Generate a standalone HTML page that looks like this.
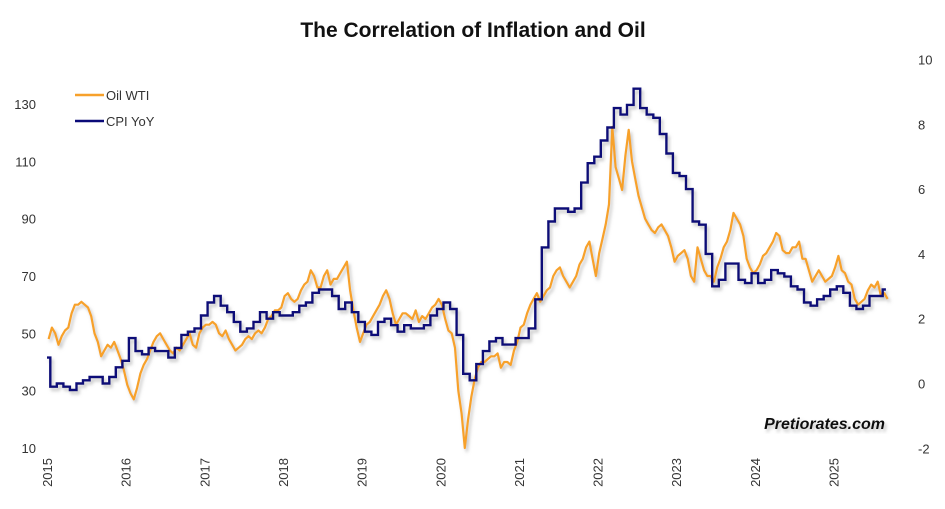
<!DOCTYPE html>
<html><head><meta charset="utf-8"><style>
body{margin:0;background:#fff;}
svg{display:block;font-family:"Liberation Sans",sans-serif;}
</style></head><body>
<svg id="chart" width="945" height="509">
<defs><filter id="sh" x="-5%" y="-5%" width="110%" height="110%"><feDropShadow dx="2" dy="3" stdDeviation="1.5" flood-color="#888" flood-opacity="0.5"/></filter></defs>
<text x="473" y="37" text-anchor="middle" font-size="21" font-weight="bold" fill="#111">The Correlation of Inflation and Oil</text>
<g id="leftAxis"></g>
<g id="rightAxis"></g>
<g id="xAxis"></g>
<g id="series" filter="url(#sh)"></g>
<g>
<line x1="75" y1="95" x2="104" y2="95" stroke="#F7A12B" stroke-width="2.5"/>
<text x="106" y="100" font-size="13" fill="#333">Oil WTI</text>
<line x1="75" y1="121" x2="104" y2="121" stroke="#0A0A78" stroke-width="2.5"/>
<text x="106" y="126" font-size="13" fill="#333">CPI YoY</text>
</g>
<text x="885" y="429" text-anchor="end" font-size="16" font-weight="bold" font-style="italic" fill="#111" filter="url(#sh)">Pretiorates.com</text>
</svg>
<script>
const yearLabels=["2015","2016","2017","2018","2019","2020","2021","2022","2023","2024","2025"];
const leftTicks=[10,30,50,70,90,110,130];
const rightTicks=[-2,0,2,4,6,8,10];
// CPI YoY monthly, starting Dec 2014
const cpiValues=[0.8,
-0.1,0.0,-0.1,-0.2,0.0,0.1,0.2,0.2,0.0,0.2,0.5,0.7,
1.4,1.0,0.9,1.1,1.0,1.0,0.8,1.1,1.5,1.6,1.7,2.1,
2.5,2.7,2.4,2.2,1.9,1.6,1.7,1.9,2.2,2.0,2.2,2.1,
2.1,2.2,2.4,2.5,2.8,2.9,2.9,2.7,2.3,2.5,2.2,1.9,
1.6,1.5,1.9,2.0,1.8,1.6,1.8,1.7,1.7,1.8,2.1,2.3,
2.5,2.3,1.5,0.3,0.1,0.6,1.0,1.3,1.4,1.2,1.2,1.4,
1.4,1.7,2.6,4.2,5.0,5.4,5.4,5.3,5.4,6.2,6.8,7.0,
7.5,7.9,8.5,8.3,8.6,9.1,8.5,8.3,8.2,7.7,7.1,6.5,
6.4,6.0,5.0,4.9,4.0,3.0,3.2,3.7,3.7,3.2,3.1,3.4,
3.1,3.2,3.5,3.4,3.3,3.0,2.9,2.5,2.4,2.6,2.7,2.9,
3.0,2.8,2.4,2.3,2.4,2.7,2.7,2.9];
// Oil WTI semi-monthly, from Jan 2015
const oilValues=[
48,52,50,46,49,51,52,57,60,60,61,60,59,56,50,47,42,44,46,45,47,44,41,37,
32,29,27,31,36,39,41,44,47,49,50,48,46,44,43,45,44,46,48,50,46,45,50,52,
53,53,54,53,50,49,51,48,46,44,45,46,48,49,48,50,51,50,52,55,56,58,58,59,
63,64,62,61,62,65,67,68,72,70,66,66,70,72,67,69,69,71,73,75,65,58,52,47,
50,53,54,56,58,60,63,65,62,57,53,55,57,57,56,55,58,54,56,55,57,59,60,62,
60,55,51,50,45,30,22,10,20,28,34,38,40,40,41,42,42,43,38,40,40,39,44,47,
52,53,57,60,62,64,61,63,65,66,70,72,73,70,68,66,68,70,74,76,80,82,76,70,
78,83,88,95,122,108,104,100,112,121,110,104,98,94,90,88,86,85,87,88,86,84,80,75,
77,78,79,76,70,68,80,76,72,70,70,68,73,76,80,82,86,92,90,88,84,76,73,71,
72,74,77,78,80,82,85,84,79,78,78,80,80,82,76,76,72,68,70,72,70,68,69,70,
73,77,72,71,68,67,62,60,61,62,65,67,66,68,63,64,62];
const NS="http://www.w3.org/2000/svg";
const xOf=t=>47+t*78.65;            // t = years since 2015
const yL=v=>448-(v-10)*2.8667;
const yR=v=>383.5-v*32.4;
function mk(tag,attrs,parent){const e=document.createElementNS(NS,tag);for(const k in attrs)e.setAttribute(k,attrs[k]);parent.appendChild(e);return e;}
const la=document.getElementById('leftAxis'),ra=document.getElementById('rightAxis'),xa=document.getElementById('xAxis'),sg=document.getElementById('series');
leftTicks.forEach(v=>{const t=mk('text',{x:36,y:yL(v)+5,'text-anchor':'end','font-size':13,fill:'#333'},la);t.textContent=v;

});
rightTicks.forEach(v=>{const t=mk('text',{x:918,y:yR(v)+5,'font-size':13,fill:'#333'},ra);t.textContent=v;

});
yearLabels.forEach((l,i)=>{const x=xOf(i);const t=mk('text',{x:0,y:0,'text-anchor':'end','font-size':13,fill:'#333',transform:`translate(${x+5},458) rotate(-90)`},xa);t.textContent=l;

});
// oil line
let d='';oilValues.forEach((v,i)=>{d+=(i?'L':'M')+xOf(i/24+1/48).toFixed(1)+','+yL(v).toFixed(1);});
const oil=mk('path',{d:d,fill:'none',stroke:'#F7A12B','stroke-width':2.2,'stroke-linejoin':'round'},sg);


// CPI step line (shifted half a month earlier)
const off=-1/24;
let c='';const n=cpiValues.length;
cpiValues.forEach((v,i)=>{const y=yR(v).toFixed(1);
 const xs=i===0?xOf(0):xOf(i/12+off);
 const xe=i===0?xOf(1/12+off):(i===n-1?xOf(i/12+off+1/24):xOf((i+1)/12+off));
 c+=(i?'L':'M')+xs.toFixed(1)+','+y+'L'+xe.toFixed(1)+','+y;});
const cpi=mk('path',{d:c,fill:'none',stroke:'#0A0A78','stroke-width':2.4,'stroke-linejoin':'miter'},sg);


</script>
</body></html>
